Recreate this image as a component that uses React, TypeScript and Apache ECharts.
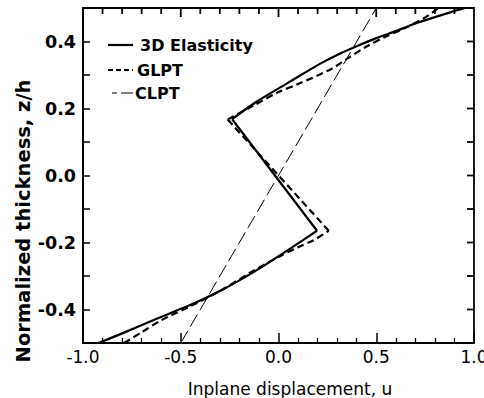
import React, { useEffect, useRef } from "react";
import * as echarts from "echarts";

// Inplane displacement u (x) vs normalized thickness z/h (y); null separates the branches at the kinks
const elasticity: (number[] | null)[] = [
  [-0.92, -0.5], [-0.79, -0.469], [-0.62, -0.427], [-0.5, -0.398], [-0.4, -0.373],
  [-0.3, -0.345], [-0.2, -0.313], [-0.09, -0.275], [0.05, -0.222], [0.197, -0.165],
  null,
  [0.197, -0.165], [-0.237, 0.168],
  null,
  [-0.237, 0.168], [-0.126, 0.215], [0.044, 0.275], [0.214, 0.334], [0.31, 0.363],
  [0.4, 0.386], [0.5, 0.41], [0.6, 0.431], [0.707, 0.455], [0.878, 0.487], [0.954, 0.5],
];
const glpt: (number[] | null)[] = [
  [-0.79, -0.5], [-0.7, -0.468], [-0.6, -0.432], [-0.45, -0.39], [-0.3, -0.345],
  [-0.15, -0.292], [0.0, -0.243], [0.1, -0.214], [0.18, -0.193], [0.257, -0.165],
  null,
  [0.257, -0.165], [-0.26, 0.167],
  null,
  [-0.26, 0.167], [-0.13, 0.208], [0.0, 0.249], [0.1, 0.273], [0.27, 0.318],
  [0.36, 0.352], [0.45, 0.385], [0.55, 0.415], [0.65, 0.441], [0.74, 0.468], [0.82, 0.5],
];
const clpt: number[][] = [
  [-0.5, -0.5], [0.5, 0.5],
];
// tick values mirrored on the top and right edges of the frame
const topTicks = [-0.9, -0.8, -0.7, -0.6, -0.5, -0.4, -0.3, -0.2, -0.1, 0, 0.1, 0.2, 0.3, 0.4, 0.5, 0.6, 0.7, 0.8, 0.9];
const rightTicks = [-0.4, -0.3, -0.2, -0.1, 0, 0.1, 0.2, 0.3, 0.4];
const seriesNames = ["3D Elasticity", "GLPT", "CLPT"];
const xTitle = "Inplane displacement, u";
const yTitle = "Normalized thickness, z/h";

const X_MIN = -1, X_MAX = 1, Y_MIN = -0.5, Y_MAX = 0.5;

export default function App() {
  const ref = useRef<HTMLDivElement>(null);
  useEffect(() => {
    if (!ref.current) return;
    const chart = echarts.init(ref.current, null, { renderer: "svg" });
    const black = "#000";
    const dashes: (number[] | null)[] = [null, [7, 4], [14, 5]];
    const widths = [2.2, 2.2, 1];
    chart.setOption({
      animation: false,
      backgroundColor: "#fff",
      grid: {
        left: 83, right: 10, top: 8, bottom: 55,
        outerBoundsMode: "none", containLabel: false,
        show: true, borderColor: black, borderWidth: 1.8, backgroundColor: "transparent",
      },
      xAxis: {
        type: "value",
        min: X_MIN,
        max: X_MAX,
        interval: 0.5,
        position: "bottom",
        splitLine: { show: false },
        axisLine: { show: true, onZero: false, lineStyle: { color: black, width: 1.8 } },
        axisTick: { show: true, inside: true, length: 10, lineStyle: { color: black, width: 1.5 } },
        minorTick: { show: true, splitNumber: 5, length: 5, lineStyle: { color: black, width: 1.3 } },
        axisLabel: {
          color: black,
          fontFamily: "DejaVu Sans",
          fontSize: 17,
          margin: 5,
          formatter: (v: number) => v.toFixed(1),
        },
      },
      yAxis: {
        type: "value",
        min: Y_MIN,
        max: Y_MAX,
        interval: 0.1,
        position: "left",
        splitLine: { show: false },
        axisLine: { show: true, onZero: false, lineStyle: { color: black, width: 1.8 } },
        axisTick: { show: true, inside: true, length: 7, lineStyle: { color: black, width: 1.5 } },
        axisLabel: {
          color: black,
          fontFamily: "DejaVu Sans",
          fontWeight: "bold",
          fontSize: 17.5,
          margin: 7,
          formatter: (v: number) => {
            const k = Math.round(v * 10);
            if (Math.abs(k) >= 5 || k % 2 !== 0) return "";
            return (k / 10).toFixed(1);
          },
        },
      },
      series: [
        {
          name: seriesNames[0],
          type: "line",
          data: elasticity,
          symbol: "none",
          showSymbol: false,
          smooth: 0.3,
          connectNulls: false,
          lineStyle: { color: black, width: widths[0], type: "solid" },
        },
        {
          name: seriesNames[1],
          type: "line",
          data: glpt,
          symbol: "none",
          showSymbol: false,
          smooth: 0.3,
          connectNulls: false,
          lineStyle: { color: black, width: widths[1], type: dashes[1] },
        },
        {
          name: seriesNames[2],
          type: "line",
          data: clpt,
          symbol: "none",
          showSymbol: false,
          lineStyle: { color: black, width: widths[2], type: dashes[2] },
        },
      ],
    });

    // graphics: axis titles, legend, and the frame's mirrored ticks placed through the chart's own scales
    const g: any[] = [
      {
        type: "text",
        x: 23.5,
        y: 221,
        rotation: Math.PI / 2,
        style: { text: yTitle, fill: black, font: "bold 19.5px 'DejaVu Sans'", align: "center", verticalAlign: "middle" },
      },
      {
        type: "text",
        x: 290,
        y: 389,
        style: { text: xTitle, fill: black, font: "17px 'DejaVu Sans'", align: "center", verticalAlign: "middle" },
      },
    ];
    const legendRowsY = [45, 70, 93];
    const legendTextX = [140, 137, 135];
    seriesNames.forEach((name, i) => {
      g.push({
        type: "line",
        shape: { x1: i === 2 ? 112 : 108, y1: legendRowsY[i], x2: 133, y2: legendRowsY[i] },
        style: { stroke: black, lineWidth: widths[i], lineDash: i === 2 ? [5, 4, 12, 0] : dashes[i] ? [5, 3] : null },
      });
      g.push({
        type: "text",
        x: legendTextX[i],
        y: legendRowsY[i],
        style: { text: name, fill: black, font: "bold 16px 'DejaVu Sans'", align: "left", verticalAlign: "middle" },
      });
    });
    topTicks.forEach((v) => {
      const pt = chart.convertToPixel({ gridIndex: 0 }, [v, Y_MAX]) as number[];
      if (!pt) return;
      const major = Math.abs(Math.round(v * 10)) % 5 === 0;
      g.push({
        type: "line",
        z: 100,
        shape: { x1: pt[0], y1: pt[1], x2: pt[0], y2: pt[1] + (major ? 9 : 6) },
        style: { stroke: black, lineWidth: 1.8 },
      });
    });
    rightTicks.forEach((v) => {
      const pt = chart.convertToPixel({ gridIndex: 0 }, [X_MAX, v]) as number[];
      if (!pt) return;
      g.push({
        type: "line",
        z: 100,
        shape: { x1: pt[0], y1: pt[1], x2: pt[0] - 7, y2: pt[1] },
        style: { stroke: black, lineWidth: 1.8 },
      });
    });
    chart.setOption({ graphic: g });
    return () => chart.dispose();
  }, []);
  return <div ref={ref} style={{ width: 484, height: 398, position: "absolute", left: 0, top: 0 }} />;
}
